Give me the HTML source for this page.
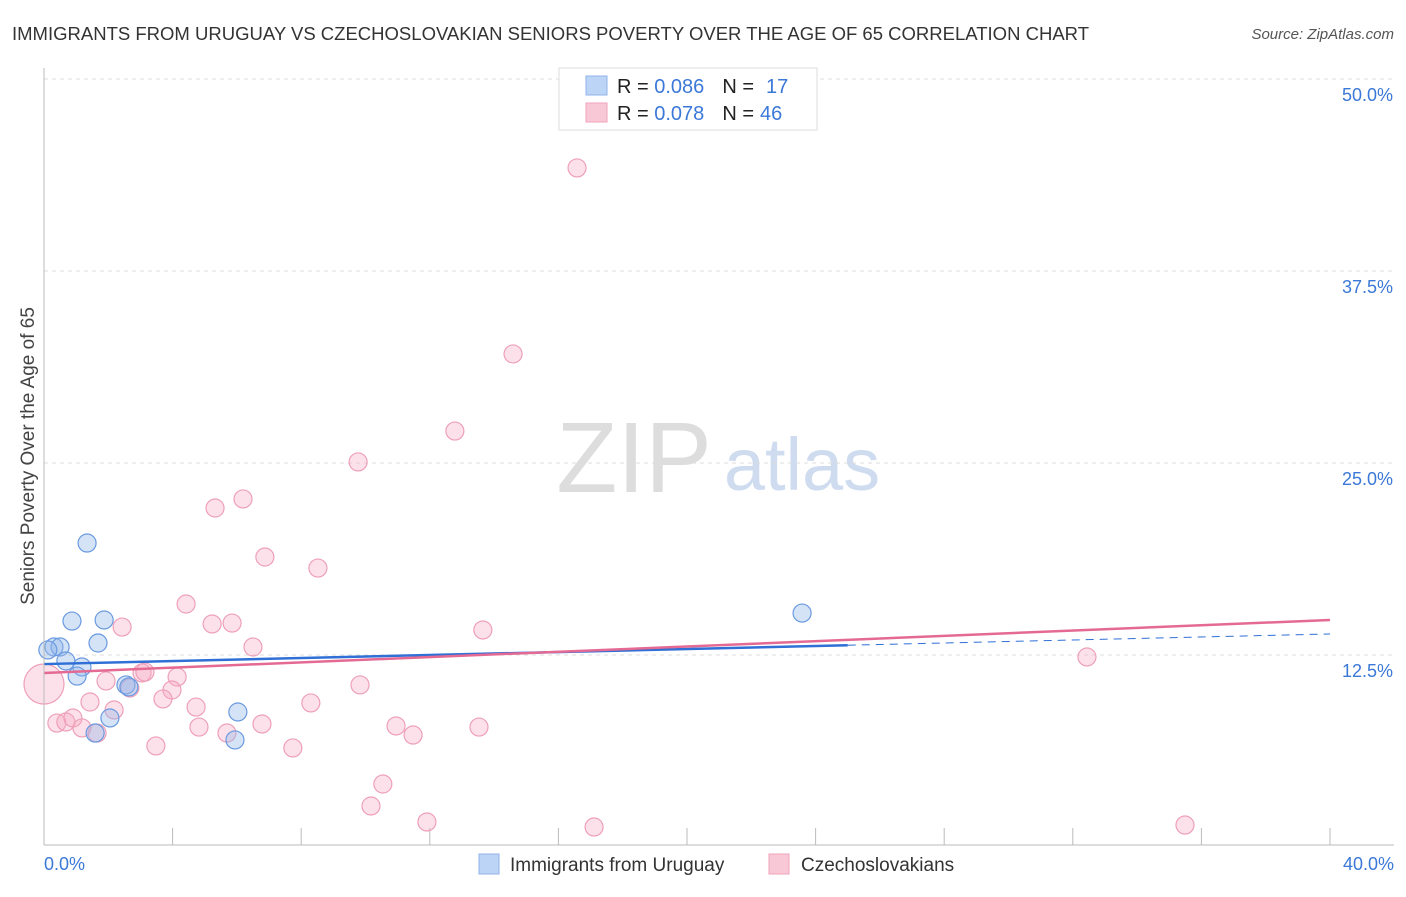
<!DOCTYPE html>
<html><head><meta charset="utf-8"><style>
body{margin:0;background:#fff;font-family:"Liberation Sans",sans-serif;}
svg text{font-family:"Liberation Sans",sans-serif;}
</style></head><body>
<svg id="c" width="1406" height="892">
<text x="12" y="40" font-size="18" fill="#333" textLength="1077" lengthAdjust="spacingAndGlyphs">IMMIGRANTS FROM URUGUAY VS CZECHOSLOVAKIAN SENIORS POVERTY OVER THE AGE OF 65 CORRELATION CHART</text>
<text x="1394" y="39" font-size="15" fill="#555" font-style="italic" text-anchor="end">Source: ZipAtlas.com</text>
<text x="34" y="456" font-size="19" fill="#444" text-anchor="middle" transform="rotate(-90 34 456)">Seniors Poverty Over the Age of 65</text>
<text x="634" y="492" font-size="100" fill="#ddd" font-family="Liberation Serif" text-anchor="middle">ZIP</text>
<text x="802" y="490" font-size="74" fill="#cfdcf0" text-anchor="middle">atlas</text>
<g id="grid"></g><g id="ticks"></g><g id="pts"></g><g id="lines"></g>
<line x1="44" y1="68" x2="44" y2="845" stroke="#bbb"/>
<line x1="44" y1="845" x2="1394" y2="845" stroke="#bbb"/>
<text x="44" y="870" font-size="18" fill="#3b78d8">0.0%</text>
<text x="1394" y="870" font-size="18" fill="#3b78d8" text-anchor="end">40.0%</text>
<g>
<rect x="559" y="68" width="258" height="62" fill="#fff" stroke="#ddd"/>
<rect x="586" y="76" width="21" height="19" fill="#bcd4f6" stroke="#8fb3e8"/>
<rect x="586" y="103" width="21" height="19" fill="#f9c8d6" stroke="#f0a3bb"/>
<text x="617" y="93" font-size="20" fill="#222">R = <tspan fill="#3b78d8">0.086</tspan><tspan dx="18">N =</tspan><tspan dx="12" fill="#3b78d8">17</tspan></text>
<text x="617" y="120" font-size="20" fill="#222">R = <tspan fill="#3b78d8">0.078</tspan><tspan dx="18">N =</tspan><tspan dx="6" fill="#3b78d8">46</tspan></text>
</g>
<g>
<rect x="479" y="854" width="20" height="20" fill="#bcd4f6" stroke="#8fb3e8"/>
<text x="510" y="871" font-size="19" fill="#333">Immigrants from Uruguay</text>
<rect x="769" y="854" width="20" height="20" fill="#f9c8d6" stroke="#f0a3bb"/>
<text x="801" y="871" font-size="19" fill="#333">Czechoslovakians</text>
</g>
</svg>
<script>
const yTicks=[12.5,25,37.5,50];
const yTickLabels=["12.5%","25.0%","37.5%","50.0%"];
const xTicks=[4,8,12,16,20,24,28,32,36,40];
const blueX=[1.34,0.87,1.87,1.68,0.31,0.50,0.12,0.68,1.18,1.03,2.55,2.64,2.05,1.59,6.03,5.94,23.58];
const blueY=[19.79,14.71,14.78,13.28,13.02,13.02,12.83,12.11,11.72,11.13,10.55,10.42,8.40,7.42,8.79,6.97,15.23];
const pinkX=[16.58,14.59,12.78,9.77,6.19,5.32,6.87,8.52,4.42,2.43,5.23,5.85,13.65,6.50,3.05,3.14,4.14,1.93,2.67,3.98,9.83,32.44,0,3.70,1.43,4.73,8.30,2.18,0.40,0.68,0.90,1.18,1.65,4.82,5.69,6.78,10.95,11.48,13.53,3.48,7.74,10.54,10.17,11.91,17.11,35.49];
const pinkY=[44.21,32.10,27.08,25.07,22.66,22.07,18.88,18.16,15.82,14.32,14.52,14.58,14.13,13.02,11.33,11.39,11.07,10.81,10.35,10.22,10.55,12.37,10.61,9.64,9.44,9.11,9.38,8.92,8.07,8.14,8.40,7.75,7.42,7.81,7.42,8.01,7.88,7.29,7.81,6.58,6.45,4.10,2.67,1.63,1.30,1.43];
const blueTrend=[11.91,13.87];
const pinkTrend=[11.33,14.78];
const blueSolidEnd=25.0;
const NS="http://www.w3.org/2000/svg";
const sx=v=>44+v*32.15, sy=v=>847-v*15.36;
function mk(t,a,p){const e=document.createElementNS(NS,t);for(const k in a)e.setAttribute(k,a[k]);document.getElementById(p).appendChild(e);return e;}
yTicks.forEach((v,i)=>{
 const l=mk('line',{x1:44,x2:1394,y1:sy(v),y2:sy(v),stroke:'#ddd','stroke-dasharray':'4 4'},'grid');
 
 
 const t=mk('text',{x:1393,y:sy(v)+22,'font-size':18,fill:'#3b78d8','text-anchor':'end'},'grid');
 t.textContent=yTickLabels[i];
 
 
});
xTicks.forEach(v=>{
 const l=mk('line',{x1:sx(v),x2:sx(v),y1:828,y2:845,stroke:'#bbb'},'ticks');
 
 
});
pinkX.forEach((x,i)=>{
 const c=mk('circle',{cx:sx(x),cy:sy(pinkY[i]),r:(x===0?20:9),fill:'rgba(246,170,195,0.35)',stroke:'#eea0b8','stroke-width':1.2},'pts');
 
 
});
blueX.forEach((x,i)=>{
 const c=mk('circle',{cx:sx(x),cy:sy(blueY[i]),r:9,fill:'rgba(150,185,235,0.4)',stroke:'#6a9ae0','stroke-width':1.2},'pts');
 
 
});
const bAt=x=>blueTrend[0]+(blueTrend[1]-blueTrend[0])*x/40;
let l1=mk('line',{x1:sx(0),y1:sy(bAt(0)),x2:sx(blueSolidEnd),y2:sy(bAt(blueSolidEnd)),stroke:'#2f6fd6','stroke-width':2.5},'lines');


let l2=mk('line',{x1:sx(blueSolidEnd),y1:sy(bAt(blueSolidEnd)),x2:sx(40),y2:sy(bAt(40)),stroke:'#2f6fd6','stroke-width':1,'stroke-dasharray':'8 6'},'lines');


let l3=mk('line',{x1:sx(0),y1:sy(pinkTrend[0]),x2:sx(40),y2:sy(pinkTrend[1]),stroke:'#e46a94','stroke-width':2.5},'lines');


</script>
</body></html>
